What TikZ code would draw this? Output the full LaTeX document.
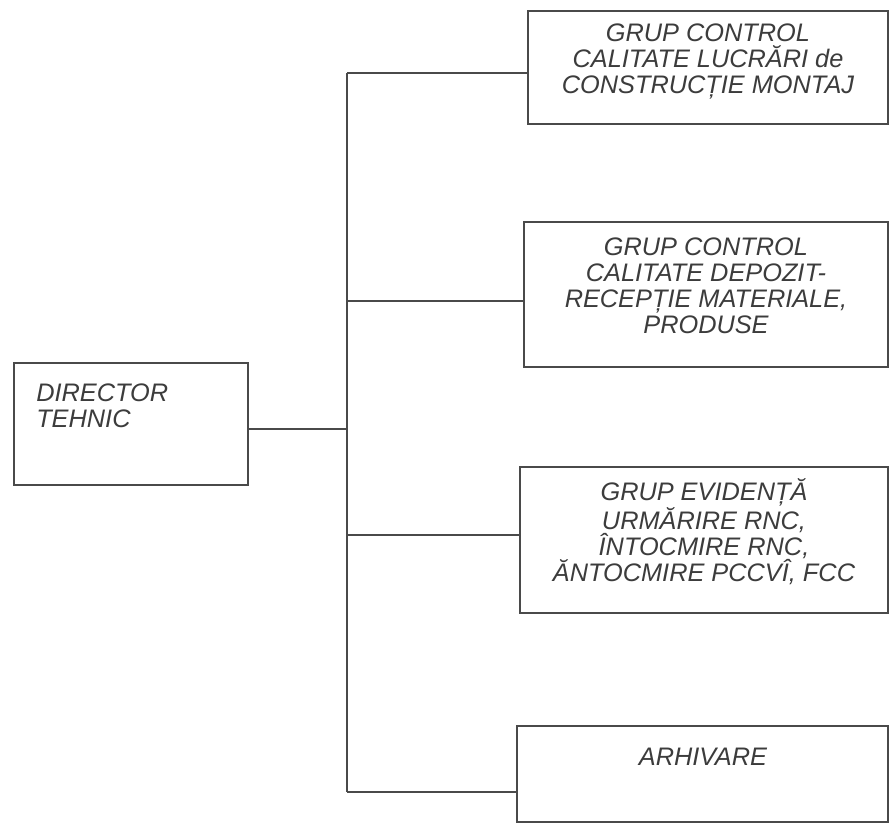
\documentclass[tikz,border=0pt]{standalone}
\usepackage{fontspec}
\setmainfont{Liberation Sans}
\usetikzlibrary{fit}
\definecolor{linec}{HTML}{4A4A4A}
\definecolor{textc}{HTML}{3C3C3C}
\begin{document}
\begin{tikzpicture}[x=0.75pt,y=-0.75pt,
  box/.style={draw=linec, line width=1.1pt, inner sep=0pt},
  lbl/.style={text=textc, font=\fontsize{19}{19.5}\selectfont\itshape, align=center, inner sep=0pt, anchor=base},
  wire/.style={draw=linec, line width=1.1pt}]
\fill[white] (0,0) rectangle (890,825);
\useasboundingbox (0,0) rectangle (890,825);
% boxes
\coordinate (d1) at (14,363);  \coordinate (d2) at (248,485);
\coordinate (a1) at (528,11);  \coordinate (a2) at (888,124);
\coordinate (c1) at (524,222); \coordinate (c2) at (888,367);
\coordinate (e1) at (520,467); \coordinate (e2) at (888,613);
\coordinate (f1) at (517,726); \coordinate (f2) at (888,822);
\node[box, fit=(d1)(d2)] (dir) {};
\node[box, fit=(a1)(a2)] (b1) {};
\node[box, fit=(c1)(c2)] (b2) {};
\node[box, fit=(e1)(e2)] (b3) {};
\node[box, fit=(f1)(f2)] (b4) {};
% texts (anchor = baseline of the last line)
\node[lbl, align=left, anchor=base west] (td) at (36,427) {DIRECTOR\\TEHNIC};
\node[lbl] (t1) at (708,93) {GRUP CONTROL\\CALITATE LUCRĂRI de\\CONSTRUCȚIE MONTAJ};
\node[lbl] (t2) at (706,333) {GRUP CONTROL\\CALITATE DEPOZIT-\\RECEPȚIE MATERIALE,\\PRODUSE};
\node[lbl] (t3) at (704,581) {GRUP EVIDENȚĂ\\URMĂRIRE RNC,\\ÎNTOCMIRE RNC,\\ĂNTOCMIRE PCCVÎ, FCC};
\node[lbl] (t4) at (703,765) {ARHIVARE};
% trunk
\coordinate (j0) at (347,429);
\coordinate (j1) at (347,73);
\coordinate (j2) at (347,301);
\coordinate (j3) at (347,535);
\coordinate (j4) at (347,792);
\draw[wire] (dir.east |- j0) -- (j0);
\draw[wire] (j1) -- (j4);
\draw[wire] (j1) -- (j1 -| b1.west);
\draw[wire] (j2) -- (j2 -| b2.west);
\draw[wire] (j3) -- (j3 -| b3.west);
\draw[wire] (j4) -- (j4 -| b4.west);
\end{tikzpicture}
\end{document}
